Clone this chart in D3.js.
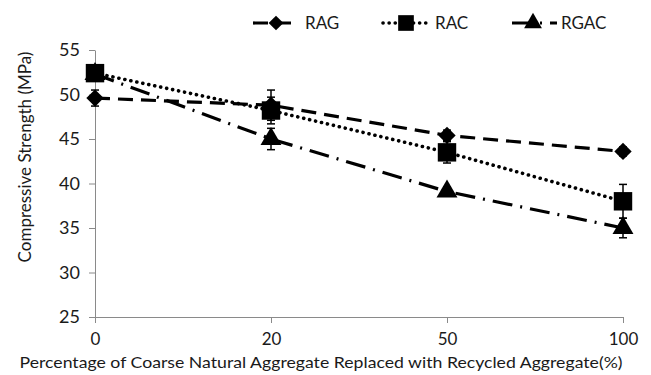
<!DOCTYPE html>
<html>
<head>
<meta charset="utf-8">
<script src="https://cdn.jsdelivr.net/npm/d3@7"></script>
<style>
  html, body { margin: 0; padding: 0; background: #fff; }
  #chart { width: 651px; height: 375px; }
  text { font-family: Lato, "Open Sans", sans-serif; fill: #1a1a1a; }
</style>
</head>
<body>
<div id="chart"></div>
<script>
// Replacement percentage categories
const categories = ['0', '20', '50', '100'];
const yTicks = [25, 30, 35, 40, 45, 50, 55];

// Compressive strength (MPa) per mix
const ragValues = [49.6, 48.8, 45.4, 43.6];
const racValues = [52.4, 48.2, 43.5, 38.0];
const rgacValues = [52.3, 45.0, 39.1, 35.0];

// Error bar half-widths
const ragErrors = [0.9, 1.7, 0.6, 0.5];
const racErrors = [0.6, 1.5, 1.2, 1.9];
const rgacErrors = [0.5, 1.2, 0.5, 1.1];

const seriesNames = ['RAG', 'RAC', 'RGAC'];

const series = [
    { name: seriesNames[0], values: ragValues, errors: ragErrors, dash: '15,8', cap: 'butt', marker: 'diamond' },
    { name: seriesNames[1], values: racValues, errors: racErrors, dash: '0.1,6', cap: 'round', marker: 'square' },
    { name: seriesNames[2], values: rgacValues, errors: rgacErrors, dash: '20,8,2,8', cap: 'butt', marker: 'triangle' }
];

const width = 651, height = 375;
const margin = { top: 50, right: 28, bottom: 58, left: 95 };

const svg = d3.select('#chart').append('svg')
    .attr('width', width)
    .attr('height', height);

const x = d3.scalePoint()
    .domain(categories)
    .range([margin.left, width - margin.right]);

const y = d3.scaleLinear()
    .domain([25, 55])
    .range([height - margin.bottom, margin.top]);

const axisColor = '#8a8a8a';

// Y axis
const yAxis = svg.append('g')
    .attr('transform', `translate(${margin.left},0)`)
    .call(d3.axisLeft(y).tickValues(yTicks).tickSize(6).tickPadding(9).tickSizeOuter(0));
yAxis.selectAll('path, line').attr('stroke', axisColor);
yAxis.selectAll('text').style('font-size', '18px').attr('fill', '#1a1a1a');

// X axis
const xAxis = svg.append('g')
    .attr('transform', `translate(0,${height - margin.bottom})`)
    .call(d3.axisBottom(x).tickSize(6).tickPadding(10).tickSizeOuter(0));
xAxis.selectAll('path, line').attr('stroke', axisColor);
xAxis.selectAll('text').style('font-size', '17px').attr('fill', '#1a1a1a');

// Axis titles
svg.append('text')
    .attr('transform', 'translate(25,157) rotate(-90)')
    .attr('text-anchor', 'middle')
    .attr('dy', '0.35em')
    .style('font-size', '17px')
    .text('Compressive Strength (MPa)');

svg.append('text')
    .attr('x', 321)
    .attr('y', 368)
    .attr('text-anchor', 'middle')
    .style('font-size', '16px')
    .attr('textLength', 603)
    .attr('lengthAdjust', 'spacingAndGlyphs')
    .text('Percentage of Coarse Natural Aggregate Replaced with Recycled Aggregate(%)');

// Marker shapes
function markerPath(type) {
    if (type === 'square') return d3.symbol().type(d3.symbolSquare).size(340)();
    if (type === 'triangle') return d3.symbol().type(d3.symbolTriangle).size(190)();
    return d3.symbol().type(d3.symbolSquare).size(150)();
}
function markerRotate(type) {
    return type === 'diamond' ? ' rotate(45)' : '';
}

const line = d3.line()
    .x((d, i) => x(categories[i]))
    .y(d => y(d));

series.forEach(s => {
    const g = svg.append('g');

    g.append('path')
        .datum(s.values)
        .attr('fill', 'none')
        .attr('stroke', '#000')
        .attr('stroke-width', s.marker === 'square' ? 3.6 : 3.2)
        .attr('stroke-dasharray', s.dash)
        .attr('stroke-linecap', s.cap)
        .attr('d', line);

    // error bars
    const eb = g.selectAll('.err')
        .data(s.values.map((v, i) => ({ v, e: s.errors[i], c: categories[i] })))
        .enter().append('g');
    eb.append('line')
        .attr('x1', d => x(d.c)).attr('x2', d => x(d.c))
        .attr('y1', d => y(d.v + d.e)).attr('y2', d => y(d.v - d.e))
        .attr('stroke', '#000').attr('stroke-width', 1.5);
    eb.selectAll('.cap')
        .data(d => [d.v + d.e, d.v - d.e].map(val => ({ c: d.c, val })))
        .enter().append('line')
        .attr('x1', d => x(d.c) - 4).attr('x2', d => x(d.c) + 4)
        .attr('y1', d => y(d.val)).attr('y2', d => y(d.val))
        .attr('stroke', '#000').attr('stroke-width', 1.5);

    g.selectAll('.pt')
        .data(s.values)
        .enter().append('path')
        .attr('d', markerPath(s.marker))
        .attr('transform', (d, i) => `translate(${x(categories[i])},${y(d)})${markerRotate(s.marker)}`)
        .attr('fill', '#000');
});

// Legend
const legendX = [253, 383, 512];
const legendY = 23;
series.forEach((s, i) => {
    const lg = svg.append('g').attr('transform', `translate(${legendX[i]},${legendY})`);
    lg.append('line')
        .attr('x1', 0).attr('x2', 45)
        .attr('stroke', '#000')
        .attr('stroke-width', s.marker === 'square' ? 3.6 : 3.2)
        .attr('stroke-dasharray', s.dash)
        .attr('stroke-linecap', s.cap);
    lg.append('path')
        .attr('d', markerPath(s.marker))
        .attr('transform', `translate(${i === 2 ? 21 : 23},0) scale(0.85)${markerRotate(s.marker)}`)
        .attr('fill', '#000');
    lg.append('text')
        .attr('x', i === 2 ? 49 : 52)
        .attr('dy', '0.35em')
        .style('font-size', '17px')
        .text(s.name);
});
</script>
</body>
</html>
